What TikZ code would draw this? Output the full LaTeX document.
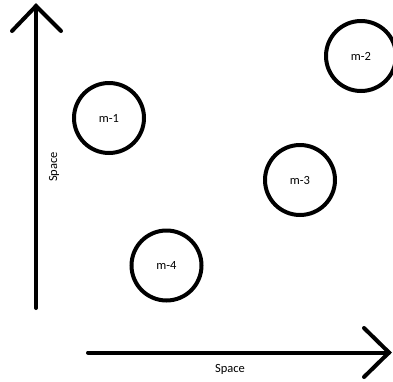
\documentclass[tikz,border=0pt]{standalone}
\usepackage{fontspec}
\setmainfont{Carlito}
\begin{document}
\begin{tikzpicture}[x=1pt,y=-1pt,
  mass/.style={circle, draw, line width=4pt, minimum size=70pt, inner sep=0pt, font=\fontsize{12.5}{14}\selectfont},
  axis/.style={line width=4pt, line cap=round, line join=miter},
  lbl/.style={inner sep=0pt, font=\fontsize{12.5}{14}\selectfont}]
\useasboundingbox (0,0) rectangle (393,381);
% vertical axis
\coordinate (vb) at (36,308);
\coordinate (vt) at (36,6);
\coordinate (vl) at (12,31);
\coordinate (vr) at (61,31);
\draw[axis] (vb) -- (vt);
\draw[axis] (vl) -- (vt) -- (vr);
% horizontal axis
\coordinate (hl) at (88,352.5);
\coordinate (hr) at (389,352.5);
\coordinate (hu) at (364,328);
\coordinate (hd) at (364,377);
\draw[axis] (hl) -- (hr);
\draw[axis] (hu) -- (hr) -- (hd);
% labels
\node[lbl, rotate=90] (ylab) at (54,167) {Space};
\node[lbl] (xlab) at (230,369) {Space};
% masses
\node[mass] (m1) at (109,118) {m-1};
\node[mass] (m2) at (361,56) {m-2};
\node[mass] (m3) at (300,180) {m-3};
\node[mass] (m4) at (166.5,265.5) {m-4};
\end{tikzpicture}
\end{document}
